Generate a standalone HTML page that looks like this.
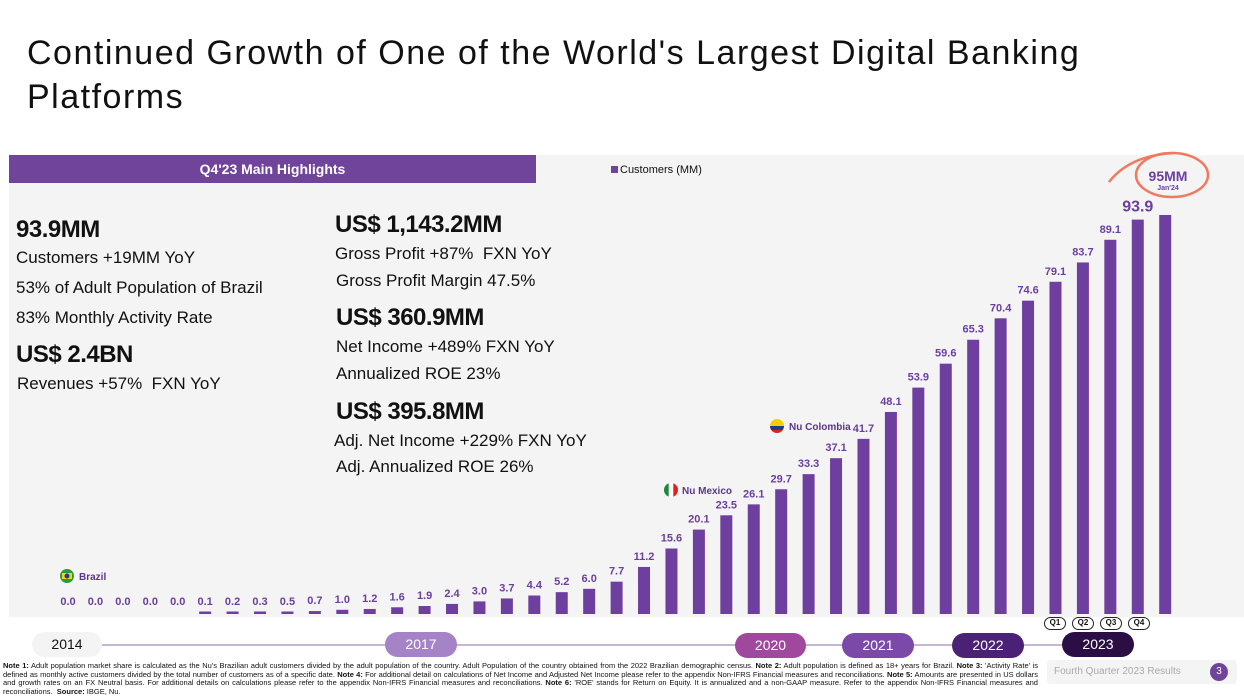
<!DOCTYPE html>
<html><head><meta charset="utf-8"><style>
*{margin:0;padding:0;box-sizing:border-box}
body{width:1244px;height:699px;background:#fff;font-family:"Liberation Sans",sans-serif;position:relative;overflow:hidden;color:#111}
.abs{position:absolute}
.big{font-weight:bold;font-size:24px;letter-spacing:-0.5px}
.txt{font-size:17px}
.pill{position:absolute;height:25px;border-radius:13px;color:#fff;font-size:14px;text-align:center;line-height:25px}
.q{position:absolute;top:617px;width:22px;height:13px;border:1.5px solid #222;border-radius:7px;font-size:8px;font-weight:bold;text-align:center;line-height:10px;background:#fff}
</style></head><body>
<div class="abs" style="left:27px;top:31px;font-size:34px;line-height:44px;letter-spacing:1.5px;color:#111">Continued Growth of One of the World's Largest Digital Banking<br>Platforms</div>
<div class="abs" style="left:9px;top:155px;width:1235px;height:462px;background:#f4f4f4"></div>
<div class="abs" style="left:9px;top:155px;width:527px;height:28px;background:#71449b;color:#fff;font-weight:bold;font-size:14px;text-align:center;line-height:28px">Q4'23 Main Highlights</div>
<div class="abs" style="left:611px;top:164px;font-size:11px"><span style="display:inline-block;width:7px;height:7px;background:#71449b;margin-right:2px"></span>Customers (MM)</div>

<div class="abs big" style="left:16px;top:216px">93.9MM</div>
<div class="abs txt" style="left:16px;top:248px">Customers +19MM YoY</div>
<div class="abs txt" style="left:16px;top:278px">53% of Adult Population of Brazil</div>
<div class="abs txt" style="left:16px;top:308px">83% Monthly Activity Rate</div>
<div class="abs big" style="left:16px;top:341px">US$ 2.4BN</div>
<div class="abs txt" style="left:17px;top:374px">Revenues +57%&nbsp; FXN YoY</div>

<div class="abs big" style="left:335px;top:211px">US$ 1,143.2MM</div>
<div class="abs txt" style="left:335px;top:244px">Gross Profit +87%&nbsp; FXN YoY</div>
<div class="abs txt" style="left:336px;top:271px">Gross Profit Margin 47.5%</div>
<div class="abs big" style="left:336px;top:304px">US$ 360.9MM</div>
<div class="abs txt" style="left:336px;top:337px">Net Income +489% FXN YoY</div>
<div class="abs txt" style="left:336px;top:364px">Annualized ROE 23%</div>
<div class="abs big" style="left:336px;top:398px">US$ 395.8MM</div>
<div class="abs txt" style="left:334px;top:431px">Adj. Net Income +229% FXN YoY</div>
<div class="abs txt" style="left:336px;top:457px">Adj. Annualized ROE 26%</div>

<svg class="abs" style="left:0;top:0" width="1244" height="699">
<g id="bars"></g>
<g><circle cx="67" cy="576" r="7" fill="#2a9a3a"/><rect x="62" y="573" width="10" height="6" fill="#f2d21e"/><circle cx="67" cy="576" r="2.5" fill="#1c3e8c"/><text x="79" y="580" font-size="10" font-weight="bold" fill="#5b3590" font-family="Liberation Sans">Brazil</text></g>
<g><clipPath id="mx"><circle cx="671" cy="490" r="7"/></clipPath><g clip-path="url(#mx)"><rect x="664" y="483" width="14" height="14" fill="#fff"/><rect x="664" y="483" width="4.7" height="14" fill="#1a8a3a"/><rect x="673.3" y="483" width="4.7" height="14" fill="#d22"/></g><text x="682" y="494" font-size="10" font-weight="bold" fill="#5b3590" font-family="Liberation Sans">Nu Mexico</text></g>
<g><clipPath id="co"><circle cx="777" cy="426" r="7"/></clipPath><g clip-path="url(#co)"><rect x="770" y="419" width="14" height="14" fill="#f5d000"/><rect x="770" y="426" width="14" height="4" fill="#1c3e8c"/><rect x="770" y="430" width="14" height="3" fill="#d22"/></g><text x="789" y="430" font-size="10" font-weight="bold" fill="#5b3590" font-family="Liberation Sans">Nu Colombia</text></g>
<g><ellipse cx="1172" cy="175" rx="36" ry="22" fill="none" stroke="#f07a5f" stroke-width="2.5"/><path d="M1109 182 Q1130 155 1175 153" fill="none" stroke="#f07a5f" stroke-width="2.5"/>
<text x="1168" y="181" font-size="14" font-weight="bold" fill="#6b3fa0" text-anchor="middle" font-family="Liberation Sans">95MM</text><text x="1168" y="190" font-size="7" font-weight="bold" fill="#6b3fa0" text-anchor="middle" font-family="Liberation Sans">Jan'24</text></g>
<line x1="100" y1="645" x2="1100" y2="645" stroke="#8a6fa8" stroke-width="1"/>
</svg>

<div class="pill" style="left:32px;top:632px;width:70px;background:#f4f4f4;color:#111">2014</div>
<div class="pill" style="left:385px;top:632px;width:72px;background:#a683c7">2017</div>
<div class="pill" style="left:735px;top:633px;width:71px;background:#a0489e">2020</div>
<div class="pill" style="left:842px;top:633px;width:72px;background:#7b4aa8">2021</div>
<div class="pill" style="left:952px;top:633px;width:72px;background:#4b2175">2022</div>
<div class="pill" style="left:1062px;top:632px;width:72px;background:#2a0e44">2023</div>
<div class="q" style="left:1044px">Q1</div>
<div class="q" style="left:1072px">Q2</div>
<div class="q" style="left:1100px">Q3</div>
<div class="q" style="left:1128px">Q4</div>

<div class="abs" style="left:3px;top:662px;width:1035px;font-size:7.5px;line-height:8.7px;text-align:justify;color:#111"><b>Note 1:</b> Adult population market share is calculated as the Nu's Brazilian adult customers divided by the adult population of the country. Adult Population of the country obtained from the 2022 Brazilian demographic census. <b>Note 2:</b> Adult population is defined as 18+ years for Brazil. <b>Note 3:</b> 'Activity Rate' is defined as monthly active customers divided by the total number of customers as of a specific date. <b>Note 4:</b> For additional detail on calculations of Net Income and Adjusted Net Income please refer to the appendix Non-IFRS Financial measures and reconciliations. <b>Note 5:</b> Amounts are presented in US dollars and growth rates on an FX Neutral basis. For additional details on calculations please refer to the appendix Non-IFRS Financial measures and reconciliations. <b>Note 6:</b> 'ROE' stands for Return on Equity. It is annualized and a non-GAAP measure. Refer to the appendix Non-IFRS Financial measures and reconciliations.&nbsp; <b>Source:</b> IBGE, Nu.</div>
<div class="abs" style="left:1047px;top:660px;width:190px;height:24px;background:#f4f4f4;border-radius:4px;font-size:10px;color:#aaa;line-height:24px;padding-left:7px">Fourth Quarter 2023 Results</div>
<div class="abs" style="left:1210px;top:663px;width:18px;height:18px;border-radius:9px;background:#71449b;color:#fff;font-size:10px;text-align:center;line-height:18px">3</div>

<script>
const labels = ["0.0","0.0","0.0","0.0","0.0","0.1","0.2","0.3","0.5","0.7","1.0","1.2","1.6","1.9","2.4","3.0","3.7","4.4","5.2","6.0","7.7","11.2","15.6","20.1","23.5","26.1","29.7","33.3","37.1","41.7","48.1","53.9","59.6","65.3","70.4","74.6","79.1","83.7","89.1","93.9",""];
const values = [0,0,0,0,0,0.1,0.2,0.3,0.5,0.7,1.0,1.2,1.6,1.9,2.4,3.0,3.7,4.4,5.2,6.0,7.7,11.2,15.6,20.1,23.5,26.1,29.7,33.3,37.1,41.7,48.1,53.9,59.6,65.3,70.4,74.6,79.1,83.7,89.1,93.9,95.0];
const NS = "http://www.w3.org/2000/svg";
const x0 = 68, step = 27.43, base = 614, scale = 4.2;
const xPos = i => x0 + i * step;
const yPos = v => base - v * scale;
const g = document.getElementById('bars');
values.forEach((v, i) => {
  if (v > 0) {
    const h = Math.max(2.5, base - yPos(v));
    const r = document.createElementNS(NS, 'rect');
    r.setAttribute('x', xPos(i) - 6);
    r.setAttribute('y', base - h);
    r.setAttribute('width', 12);
    r.setAttribute('height', h);
    r.setAttribute('fill', '#6e3f9e');
    
    
    g.appendChild(r);
  }
  if (labels[i]) {
    const t = document.createElementNS(NS, 'text');
    const big = i === labels.length - 2;
    t.setAttribute('x', xPos(i));
    t.setAttribute('y', Math.min(605, yPos(v) - (big ? 8 : 7)));
    t.setAttribute('text-anchor', 'middle');
    t.setAttribute('font-size', big ? 16 : 11);
    t.setAttribute('font-weight', 'bold');
    t.setAttribute('font-family', 'Liberation Sans');
    t.setAttribute('fill', '#6b3fa0');
    t.textContent = labels[i];
    
    
    g.appendChild(t);
  }
});
</script>
</body></html>
